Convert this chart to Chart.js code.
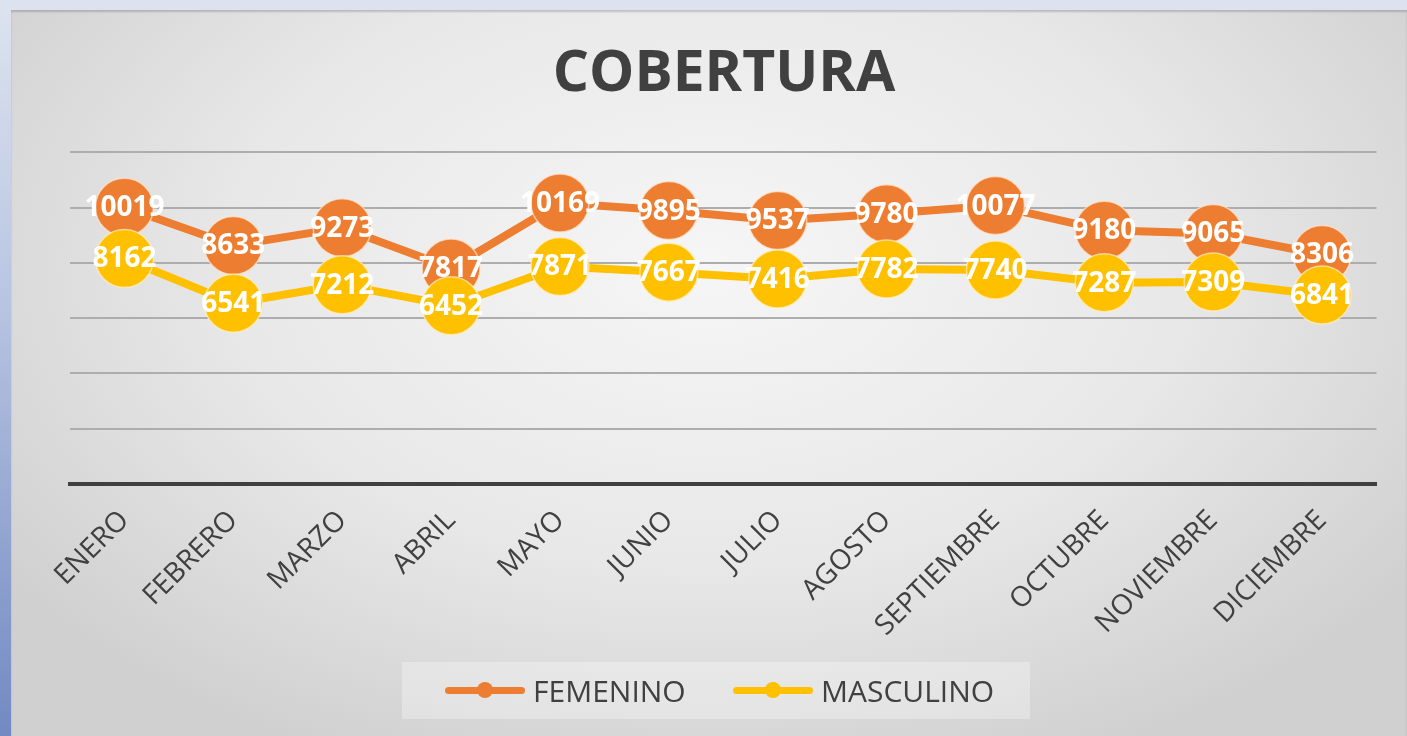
<!DOCTYPE html>
<html>
<head>
<meta charset="utf-8">
<script src="https://cdn.jsdelivr.net/npm/chart.js@4.4.1/dist/chart.umd.min.js"></script>
<style>
    html, body {
        margin: 0;
        padding: 0;
        width: 1407px;
        height: 736px;
        overflow: hidden;
    }
    body {
        background: linear-gradient(to bottom, #dde3ef 0%, #b9c6e2 40%, #7289c2 100%);
        font-family: "Open Sans", sans-serif;
    }
    .chart-box {
        position: absolute;
        left: 11px;
        top: 10px;
        width: 1396px;
        height: 726px;
        background: radial-gradient(ellipse 62% 75% at 50% 35%, #f6f6f6 0%, #e8e8e8 55%, #d0d0d0 100%);
        box-shadow: inset 0 2px 2px rgba(0, 0, 0, 0.18);
    }
    .legend {
        position: absolute;
        left: 391px;
        top: 652px;
        width: 628px;
        height: 57px;
        background: rgba(255, 255, 255, 0.3);
        color: #404040;
        font-size: 30px;
    }
    .legend-item {
        display: flex;
        align-items: center;
        position: absolute;
        top: 0;
        height: 57px;
    }
    .legend-line {
        position: relative;
        width: 80px;
        height: 7px;
        border-radius: 4px;
        margin-right: 8px;
    }
    .legend-line::after {
        content: "";
        position: absolute;
        left: 32px;
        top: -5px;
        width: 16px;
        height: 16px;
        border-radius: 50%;
        background: inherit;
    }
</style>
</head>
<body>
<div class="chart-box">
    <canvas id="cobertura"></canvas>
    <div class="legend" id="legend"></div>
</div>
<script>
// Data
const meses = ['ENERO', 'FEBRERO', 'MARZO', 'ABRIL', 'MAYO', 'JUNIO', 'JULIO',
    'AGOSTO', 'SEPTIEMBRE', 'OCTUBRE', 'NOVIEMBRE', 'DICIEMBRE'];
const femenino = [10019, 8633, 9273, 7817, 10169, 9895, 9537, 9780, 10077, 9180, 9065, 8306];
const masculino = [8162, 6541, 7212, 6452, 7871, 7667, 7416, 7782, 7740, 7287, 7309, 6841];
const seriesNames = ['FEMENINO', 'MASCULINO'];
const seriesColors = ['#ED7D31', '#FFC000'];

// White value labels centred on each marker
const valueLabels = {
    id: 'valueLabels',
    afterDatasetsDraw(chart) {
        const ctx = chart.ctx;
        ctx.save();
        ctx.font = 'bold 28px "Open Sans", sans-serif';
        ctx.fillStyle = '#ffffff';
        ctx.textAlign = 'center';
        ctx.textBaseline = 'middle';
        chart.data.datasets.forEach((ds, i) => {
            const meta = chart.getDatasetMeta(i);
            meta.data.forEach((pt, j) => {
                ctx.fillText(ds.data[j], pt.x, pt.y + 1);
            });
        });
        ctx.restore();
    }
};

const ctx = document.getElementById('cobertura');
const chart = new Chart(ctx, {
    type: 'line',
    data: {
        labels: meses,
        datasets: [
            {
                label: seriesNames[0],
                data: femenino,
                borderColor: seriesColors[0],
                backgroundColor: seriesColors[0],
                borderWidth: 8,
                pointRadius: 29,
                pointBackgroundColor: seriesColors[0],
                pointBorderColor: 'rgba(255, 230, 210, 0.7)',
                pointBorderWidth: 1.5,
                order: 1
            },
            {
                label: seriesNames[1],
                data: masculino,
                borderColor: seriesColors[1],
                backgroundColor: seriesColors[1],
                borderWidth: 8,
                pointRadius: 29,
                pointBackgroundColor: seriesColors[1],
                pointBorderColor: 'rgba(255, 240, 200, 0.7)',
                pointBorderWidth: 1.5,
                order: 0
            }
        ]
    },
    options: {
        responsive: true,
        maintainAspectRatio: false,
        animation: false,
        layout: {
            padding: { left: 59, right: 29, top: 0, bottom: 0 }
        },
        plugins: {
            legend: { display: false },
            tooltip: { enabled: false },
            title: {
                display: true,
                text: 'COBERTURA',
                color: '#404040',
                font: { family: '"Open Sans", sans-serif', size: 57, weight: 'bold' },
                padding: { top: 31, bottom: 43 }
            }
        },
        scales: {
            x: {
                offset: true,
                grid: { display: false, drawTicks: false },
                border: { display: true, color: '#404040', width: 4 },
                ticks: {
                    color: '#404040',
                    font: { family: '"Open Sans", sans-serif', size: 28 },
                    minRotation: 45,
                    maxRotation: 45,
                    padding: 20
                },
                afterFit(scale) {
                    scale.height = 252;
                }
            },
            y: {
                min: 0,
                max: 12000,
                ticks: { display: false, stepSize: 2000 },
                grid: { color: '#adadad', lineWidth: 2, drawTicks: false },
                border: { display: false }
            }
        }
    },
    plugins: [valueLabels]
});

// HTML legend
const legend = document.getElementById('legend');
const legendLeft = [43, 331];
seriesNames.forEach((name, i) => {
    const item = document.createElement('div');
    item.className = 'legend-item';
    item.style.left = legendLeft[i] + 'px';
    const line = document.createElement('span');
    line.className = 'legend-line';
    line.style.background = seriesColors[i];
    const text = document.createElement('span');
    text.textContent = name;
    item.appendChild(line);
    item.appendChild(text);
    legend.appendChild(item);
});
</script>
</body>
</html>
